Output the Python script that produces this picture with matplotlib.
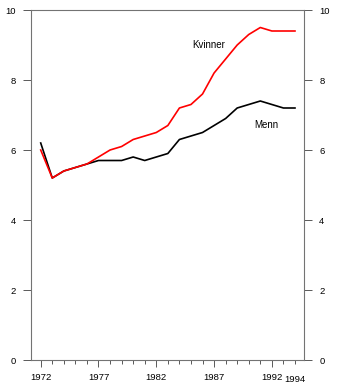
import numpy as np
import matplotlib
matplotlib.use('Agg')
import matplotlib.pyplot as plt
from matplotlib.ticker import MultipleLocator
from matplotlib.transforms import offset_copy

years = list(range(1972, 1995))
kvinner = [6.0, 5.2, 5.4, 5.5, 5.6, 5.8, 6.0, 6.1, 6.3, 6.4, 6.5, 6.7,
           7.2, 7.3, 7.6, 8.2, 8.6, 9.0, 9.3, 9.5, 9.4, 9.4, 9.4]
menn = [6.2, 5.2, 5.4, 5.5, 5.6, 5.7, 5.7, 5.7, 5.8, 5.7, 5.8, 5.9,
        6.3, 6.4, 6.5, 6.7, 6.9, 7.2, 7.3, 7.4, 7.3, 7.2, 7.2]
year_ticks = [1972, 1977, 1982, 1987, 1992]
y_ticks = [0, 2, 4, 6, 8, 10]

plt.rcParams.update({
    'font.family': ['Liberation Sans', 'DejaVu Sans'],
    'font.size': 6.8,
    'axes.linewidth': 0.8,
    'axes.edgecolor': '0.45',
})

fig = plt.figure(figsize=(3.37, 3.89), dpi=100)
ax = fig.add_axes([31 / 337, 1 - 360 / 389, 273 / 337, 350 / 389])

ax.plot(years, menn, color='black', lw=1.2)
ax.plot(years, kvinner, color='#ff0000', lw=1.2)

ax.text(1985.1, 9.0, 'Kvinner', fontsize=7, va='center', ha='left')
ax.text(1990.5, 6.71, 'Menn', fontsize=7, va='center', ha='left')

ax.set_xlim(1971.16, 1994.78)
ax.set_ylim(0, 10)

ax.set_xticks(year_ticks)
ax.set_xticklabels([str(y) for y in year_ticks])
ax.xaxis.set_minor_locator(MultipleLocator(1))
ax.tick_params(axis='x', which='major', length=5, width=0.7, color='0.35', pad=4)
ax.tick_params(axis='x', which='minor', length=3, width=0.7, color='0.35')
# last year label sits a bit lower than the others
ax.text(1994, 0, '1994', ha='center', va='top', fontsize=6.8,
        transform=offset_copy(ax.transData, fig=fig, x=0, y=-15, units='dots'))

ax.set_yticks(y_ticks)
ax.tick_params(axis='y', which='major', length=6, width=0.7, color='0.35', pad=5,
               left=True, right=True, labelleft=True, labelright=True)

fig.savefig('out.png', dpi=100, facecolor='white')
